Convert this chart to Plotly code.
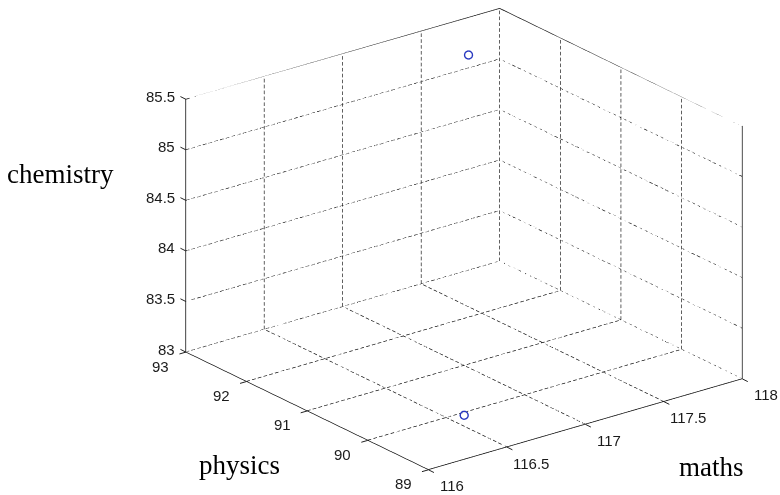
import numpy as np
import plotly.graph_objects as go

maths = [116.59, 117.80]
physics = [89.94, 93.0]
chemistry = [83.0, 85.13]

x_ticks = [116, 116.5, 117, 117.5, 118]
y_ticks = [89, 90, 91, 92, 93]
z_ticks = [83, 83.5, 84, 84.5, 85, 85.5]
x_range = [116, 118]
y_range = [89, 93]
z_range = [83, 85.5]

x0, x1 = x_range
y0, y1 = y_range
z0, z1 = z_range

fig = go.Figure()

# dashed grid lines on the three back planes (dashes built as short segments)
gx, gy, gz = [], [], []
def dashed(p, q, n):
    p = np.array(p, float); q = np.array(q, float)
    t = np.linspace(0, 1, n + 1)
    for i in range(n):
        a = p + (q - p) * t[i]
        b = p + (q - p) * (t[i] + 0.62 * (t[i + 1] - t[i]))
        gx.extend([a[0], b[0], None]); gy.extend([a[1], b[1], None]); gz.extend([a[2], b[2], None])

NX, NY, NZ = 55, 46, 43
for xv in x_ticks[1:]:
    dashed((xv, y0, z0), (xv, y1, z0), NY)   # floor, along physics
    dashed((xv, y1, z0), (xv, y1, z1), NZ)   # back wall, vertical
for yv in y_ticks[1:]:
    dashed((x0, yv, z0), (x1, yv, z0), NX)   # floor, along maths
    dashed((x1, yv, z0), (x1, yv, z1), NZ)   # right wall, vertical
for zv in z_ticks[1:-1]:
    dashed((x0, y1, zv), (x1, y1, zv), NX)   # back wall, horizontal
    dashed((x1, y0, zv), (x1, y1, zv), NY)   # right wall, horizontal
fig.add_trace(go.Scatter3d(x=gx, y=gy, z=gz, mode="lines", connectgaps=False,
                           line=dict(color="#000000", width=1.3),
                           hoverinfo="skip", showlegend=False))

# solid outer edges of the back walls
fig.add_trace(go.Scatter3d(x=[x0, x0, x1, x1, x1], y=[y1, y1, y1, y0, y0], z=[z0, z1, z1, z1, z0],
                           mode="lines", line=dict(color="#111111", width=1.5),
                           hoverinfo="skip", showlegend=False))

fig.add_trace(go.Scatter3d(
    x=maths, y=physics, z=chemistry, mode="markers",
    marker=dict(symbol="circle-open", size=5, color="#2838c0", line=dict(width=1, color="#2838c0")),
    showlegend=False))

axis_common = dict(
    showbackground=False, showgrid=False,
    showline=True, linecolor="black", linewidth=1.5,
    ticks="", showticklabels=False,
    zeroline=False, title=dict(text=""), showspikes=False)

tick_font = dict(family="Liberation Sans, Arial", size=15, color="#1a1a1a")
label_font = dict(family="Liberation Serif, Times New Roman", size=27, color="black")

def tick(x, y, z, ax, ay):
    return dict(x=x, y=y, z=z, text="", showarrow=True, arrowhead=0, arrowwidth=1,
                arrowcolor="#222", ax=ax, ay=ay, standoff=0, startstandoff=0)

scene_ann = []
for zv in z_ticks:
    scene_ann.append(tick(x0, y1, zv, -7, -3.5))
    scene_ann.append(dict(x=x0, y=y1, z=zv, text=f"{zv:g}", showarrow=False, xanchor="right",
                          xshift=-9, yshift=3, font=tick_font))
for yv in y_ticks:
    scene_ann.append(tick(x0, yv, z0, -8, 2.3))
    scene_ann.append(dict(x=x0, y=yv, z=z0, text=f"{yv:g}", showarrow=False,
                          xshift=-25, yshift=-14, font=tick_font))
for xv in x_ticks:
    scene_ann.append(tick(xv, y0, z0, 7, 3.5))
    scene_ann.append(dict(x=xv, y=y0, z=z0, text=f"{xv:g}", showarrow=False,
                          xshift=24, yshift=-16, font=tick_font))

k = 1.66
fig.update_layout(
    width=780, height=495, paper_bgcolor="white",
    margin=dict(l=0, r=0, t=0, b=0),
    scene=dict(
        domain=dict(x=[0.19, 1.0], y=[0.034, 1.0]),
        xaxis=dict(range=x_range, tickvals=x_ticks, **axis_common),
        yaxis=dict(range=y_range, tickvals=y_ticks, **axis_common),
        zaxis=dict(range=z_range, tickvals=z_ticks, **axis_common),
        aspectmode="manual", aspectratio=dict(x=1 * k, y=1 * k, z=0.687 * k),
        camera=dict(projection=dict(type="orthographic"),
                    eye=dict(x=-1.0, y=-1.294, z=0.661), up=dict(x=0, y=0, z=1)),
        annotations=scene_ann,
    ),
    annotations=[
        dict(text="chemistry", x=60/780, y=1-174/495, xref="paper", yref="paper", showarrow=False,
             xanchor="center", yanchor="middle", font=label_font),
        dict(text="physics", x=239/780, y=1-465/495, xref="paper", yref="paper", showarrow=False,
             xanchor="center", yanchor="middle", font=label_font),
        dict(text="maths", x=711/780, y=1-467/495, xref="paper", yref="paper", showarrow=False,
             xanchor="center", yanchor="middle", font=label_font),
    ],
)
fig.write_html("out.html")
